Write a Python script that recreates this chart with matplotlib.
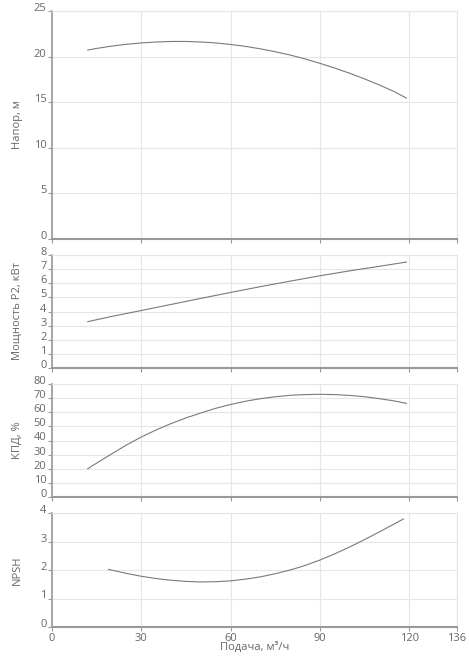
import matplotlib.pyplot as plt

plt.rcParams['font.family'] = ['Open Sans', 'DejaVu Sans']

# flow, m3/h and values
q_head = [12, 15, 20, 25, 30, 35, 40, 45, 50, 55, 60, 65, 70, 75, 80, 85, 90, 95, 100, 105, 110, 115, 119]
head = [20.72, 20.9, 21.15, 21.35, 21.5, 21.6, 21.66, 21.66, 21.6, 21.5, 21.33, 21.12, 20.85,
        20.53, 20.17, 19.74, 19.26, 18.74, 18.17, 17.55, 16.88, 16.15, 15.45]

q_power = [12, 20, 30, 40, 50, 60, 70, 80, 90, 100, 110, 119]
power = [3.28, 3.65, 4.07, 4.5, 4.93, 5.35, 5.76, 6.15, 6.53, 6.88, 7.2, 7.5]

q_eff = [12, 15, 20, 25, 30, 35, 40, 45, 50, 55, 60, 65, 70, 75, 80, 85, 90, 95, 100, 105, 110, 115, 119]
eff = [20, 24, 30.5, 36.8, 42.5, 47.5, 52, 56, 59.5, 62.8, 65.5, 67.8, 69.6, 71, 72, 72.5,
       72.7, 72.5, 71.9, 71, 69.6, 68, 66.3]

q_npsh = [19, 25, 30, 35, 40, 45, 50, 55, 60, 65, 70, 75, 80, 85, 90, 95, 100, 105, 110, 115, 118]
npsh = [2.02, 1.88, 1.78, 1.7, 1.64, 1.6, 1.58, 1.59, 1.62, 1.68, 1.76, 1.87, 2.0, 2.16,
        2.35, 2.57, 2.81, 3.07, 3.34, 3.62, 3.79]

x_ticks = [0, 30, 60, 90, 120, 136]

panels = [
    (q_head, head, 'Напор, м', [0, 5, 10, 15, 20, 25], 25),
    (q_power, power, 'Мощность P2, кВт', [0, 1, 2, 3, 4, 5, 6, 7, 8], 8),
    (q_eff, eff, 'КПД, %', [0, 10, 20, 30, 40, 50, 60, 70, 80], 80),
    (q_npsh, npsh, 'NPSH', [0, 1, 2, 3, 4], 4),
]

# plot area in pixels
W, H = 469, 666
left, right = 52, 457
boxes = [(11, 239), (255, 368), (384, 497), (513, 627)]

fig = plt.figure(figsize=(W / 100, H / 100), dpi=100)

text_col = '#666666'
grid_col = '#e6e6e6'
axis_col = '#999999'

for i, ((qx, vals, label, yt, ymax), (top, bot)) in enumerate(zip(panels, boxes)):
    ax = fig.add_axes([left / W, (H - bot) / H, (right - left) / W, (bot - top) / H])
    ax.plot(qx, vals, color='#7a7a7a', linewidth=0.8)
    ax.set_xlim(0, 136)
    ax.set_ylim(0, ymax)
    ax.set_xticks(x_ticks)
    ax.set_yticks(yt)
    ax.grid(True, color=grid_col, linewidth=0.8)
    ax.set_axisbelow(True)
    for s in ['top', 'right']:
        ax.spines[s].set_color(grid_col)
        ax.spines[s].set_linewidth(0.8)
    ax.spines['left'].set_color(axis_col)
    ax.spines['left'].set_linewidth(1.2)
    ax.spines['bottom'].set_color(axis_col)
    ax.spines['bottom'].set_linewidth(1.5)
    ax.tick_params(axis='both', colors=axis_col, labelcolor=text_col,
                   labelsize=8, length=3, width=0.8, pad=1)
    for t in ax.get_yticklabels():
        t.set_verticalalignment('baseline')
    ax.set_ylabel(label, fontsize=8, color=text_col)
    ax.yaxis.set_label_coords(-0.085, 0.5)
    ax.yaxis.label.set_va('center')
    if i < 3:
        ax.tick_params(axis='x', labelbottom=False)
    else:
        ax.tick_params(axis='x', pad=1)
        ax.set_xlabel('Подача, м³/ч', fontsize=8, color=text_col, labelpad=-1)

fig.savefig('out.png', dpi=100)
